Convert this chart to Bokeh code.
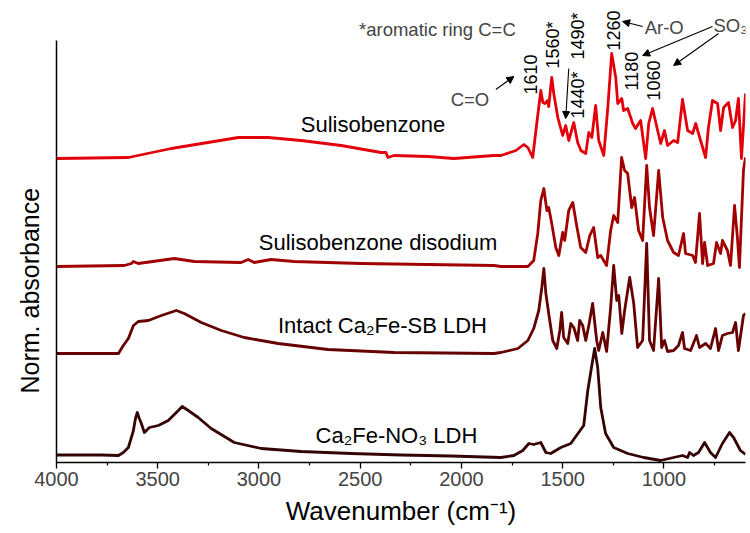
import math
from bokeh.plotting import figure
from bokeh.models import Range1d, FixedTicker, Label, Arrow, NormalHead, Title
from bokeh.embed import file_html
from bokeh.resources import INLINE

# ---------------- data (wavenumber cm-1, stacked normalized absorbance) ----------------
sb_wn = [4000, 3645, 3433, 3102, 3078, 2955, 2792, 2594, 2397, 2373, 2363, 2333, 2165, 2037, 1840,
         1805, 1731, 1692, 1672, 1648, 1628, 1608, 1598, 1588, 1574, 1569, 1554, 1544, 1524, 1500,
         1485, 1470, 1445, 1426, 1410, 1386, 1371, 1356, 1337, 1322, 1297, 1277, 1258, 1238, 1228,
         1208, 1199, 1179, 1154, 1140, 1115, 1090, 1075, 1056, 1031, 1016, 997, 982, 952, 932,
         908, 883, 858, 843, 819, 794, 780, 760, 735, 720, 705, 681, 661, 646, 632, 617, 597]
sb_ab = [3.04, 3.05, 3.14, 3.25, 3.25, 3.25, 3.22, 3.17, 3.10, 3.10, 3.05, 3.07, 3.06, 3.04, 3.07,
         3.07, 3.12, 3.18, 3.15, 3.05, 3.39, 3.72, 3.60, 3.59, 3.62, 3.56, 3.85, 3.69, 3.45, 3.27,
         3.37, 3.22, 3.40, 3.20, 3.12, 3.09, 3.30, 3.25, 3.57, 3.22, 3.07, 3.55, 4.09, 3.85, 3.59,
         3.64, 3.52, 3.54, 3.39, 3.34, 3.42, 3.04, 3.39, 3.54, 3.32, 3.19, 3.32, 3.17, 3.22, 3.20,
         3.63, 3.32, 3.29, 3.39, 3.22, 3.05, 3.35, 3.62, 3.59, 3.32, 3.55, 3.60, 3.35, 3.42, 3.64,
         3.04, 3.69]

sbna_wn = [4000, 3665, 3630, 3620, 3596, 3418, 3319, 3088, 3053, 3024, 2940, 2826, 2496, 1840, 1805,
           1672, 1643, 1623, 1608, 1593, 1578, 1569, 1554, 1534, 1519, 1500, 1490, 1470, 1450, 1431,
           1411, 1386, 1366, 1347, 1327, 1312, 1283, 1263, 1248, 1228, 1209, 1194, 1179, 1159, 1145,
           1125, 1105, 1085, 1071, 1051, 1026, 1006, 982, 952, 928, 903, 893, 858, 844, 824,
           809, 799, 784, 755, 740, 720, 711, 686, 671, 651, 637, 627, 607, 597]
sbna_ab = [1.96, 1.97, 1.99, 2.01, 1.99, 2.04, 2.01, 2.00, 2.03, 2.00, 2.03, 2.01, 1.99, 1.97, 1.96,
           1.96, 2.02, 2.29, 2.62, 2.74, 2.52, 2.55, 2.39, 2.15, 2.07, 2.30, 2.22, 2.52, 2.60, 2.37,
           2.15, 2.10, 2.27, 2.35, 2.05, 2.07, 1.97, 2.32, 2.47, 2.40, 3.05, 2.92, 2.89, 2.55, 2.65,
           2.32, 2.22, 2.97, 2.55, 2.27, 2.92, 2.45, 2.22, 2.10, 2.07, 2.29, 2.09, 2.07, 2.00, 2.49,
           1.99, 2.20, 1.97, 1.99, 2.20, 2.09, 2.22, 2.12, 1.97, 2.57, 2.25, 1.95, 2.92, 3.05]

ldh_sb_wn = [4000, 3694, 3670, 3645, 3620, 3596, 3546, 3482, 3408, 3369, 3285, 3186, 3073, 2905, 2659,
             2333, 1840, 1805, 1721, 1672, 1643, 1618, 1603, 1593, 1583, 1569, 1549, 1529, 1514, 1505,
             1495, 1475, 1460, 1445, 1426, 1416, 1401, 1386, 1371, 1352, 1332, 1322, 1302, 1283, 1263,
             1248, 1233, 1223, 1208, 1194, 1169, 1149, 1130, 1105, 1085, 1071, 1051, 1026, 1011, 997,
             982, 952, 928, 908, 898, 868, 839, 824, 794, 770, 745, 730, 711, 686, 661,
             646, 632, 607, 597]
ldh_sb_ab = [1.09, 1.09, 1.17, 1.24, 1.37, 1.41, 1.42, 1.47, 1.52, 1.49, 1.40, 1.32, 1.25, 1.19, 1.13,
             1.10, 1.09, 1.10, 1.14, 1.22, 1.34, 1.52, 1.75, 1.94, 1.69, 1.49, 1.22, 1.14, 1.32, 1.50,
             1.25, 1.19, 1.39, 1.35, 1.22, 1.42, 1.37, 1.22, 1.37, 1.59, 1.22, 1.12, 1.30, 1.11, 1.55,
             1.97, 1.62, 1.67, 1.29, 1.52, 1.85, 1.59, 1.15, 1.22, 2.19, 1.22, 1.12, 1.84, 1.15, 1.22,
             1.11, 1.12, 1.17, 1.30, 1.14, 1.12, 1.27, 1.15, 1.19, 1.14, 1.34, 1.12, 1.27, 1.29, 1.30,
             1.40, 1.12, 1.47, 1.49]

ldh_no3_wn = [4000, 3778, 3694, 3670, 3645, 3620, 3610, 3601, 3591, 3581, 3566, 3541, 3497, 3448, 3408,
              3379, 3349, 3300, 3236, 3122, 2989, 2792, 2545, 2299, 2052, 1805, 1741, 1697, 1667, 1643,
              1608, 1583, 1559, 1509, 1460, 1421, 1396, 1376, 1352, 1342, 1327, 1312, 1288, 1248, 1179,
              1100, 1016, 952, 908, 883, 873, 854, 829, 799, 770, 745, 711, 676, 656, 622, 597]
ldh_no3_ab = [0.075, 0.075, 0.07, 0.10, 0.15, 0.32, 0.44, 0.50, 0.44, 0.39, 0.30, 0.35, 0.37, 0.42, 0.50,
              0.56, 0.52, 0.45, 0.34, 0.20, 0.14, 0.11, 0.09, 0.075, 0.065, 0.05, 0.07, 0.12, 0.19, 0.18,
              0.20, 0.10, 0.09, 0.15, 0.19, 0.30, 0.37, 0.72, 1.02, 1.14, 0.95, 0.55, 0.29, 0.15, 0.09,
              0.05, 0.02, 0.05, 0.07, 0.05, 0.10, 0.07, 0.10, 0.20, 0.10, 0.05, 0.19, 0.30, 0.25, 0.12, 0.08]

series_names = ["Sulisobenzone", "Sulisobenzone disodium", "Intact Ca\u2082Fe-SB LDH", "Ca\u2082Fe-NO\u2083 LDH"]
series_label_wn = [2437, 2412, 2390, 2321]
series_label_ab = [3.385, 2.205, 1.37, 0.27]
series_colors = ["#E3000B", "#A00000", "#660000", "#340404"]

x_ticks = [1000, 1500, 2000, 2500, 3000, 3500, 4000]
x_minor = [750, 1250, 1750, 2250, 2750, 3250, 3750]

# peak annotations (rotated band positions)
peak_text = ["1610", "1560*", "1490*", "1440*", "1260", "1180", "1060"]
peak_wn = [1658, 1549, 1426, 1426, 1248, 1159, 1051]
peak_ab = [3.68, 3.94, 4.03, 3.44, 4.12, 3.72, 3.62]

x_title = "Wavenumber (cm\u207b\u00b9)"
y_title = "Norm. absorbance"

# ---------------- figure ----------------
FONT = "Liberation Sans"
p = figure(width=750, height=533, output_backend="svg", toolbar_location=None,
           x_range=Range1d(4000, 597), y_range=Range1d(0, 4.62),
           min_border_left=55, min_border_right=5, min_border_top=0, min_border_bottom=71)
p.outline_line_color = None
p.grid.visible = False

for wn, ab, c in zip([sb_wn, sbna_wn, ldh_sb_wn, ldh_no3_wn],
                     [sb_ab, sbna_ab, ldh_sb_ab, ldh_no3_ab], series_colors):
    p.line(wn, ab, line_color=c, line_width=2.8, line_join="round")

# x axis
xa = p.xaxis[0]
xa.ticker = FixedTicker(ticks=x_ticks, minor_ticks=x_minor)
xa.major_label_text_font = FONT
xa.major_label_text_font_size = "20px"
xa.major_label_standoff = 3
xa.major_tick_out = 6
xa.major_tick_in = 0
xa.minor_tick_out = 3
xa.minor_tick_in = 0
xa.axis_line_width = 1.5
xa.major_tick_line_width = 1.3
xa.minor_tick_line_width = 1.2

# y axis: plain line, no ticks
ya = p.yaxis[0]
ya.ticker = FixedTicker(ticks=[], minor_ticks=[])
ya.major_tick_line_color = None
ya.minor_tick_line_color = None
ya.bounds = (0, 4.22)
ya.axis_line_width = 1.5

# axis titles
p.add_layout(Title(text=x_title, align="center", standoff=10, text_font=FONT, text_font_size="26px",
                   text_font_style="normal", text_color="black"), "below")
p.add_layout(Title(text=y_title, align="left", offset=69, standoff=26, text_font=FONT,
                   text_font_size="25px", text_font_style="normal", text_color="black"), "left")

# spectrum labels
for t, x, y in zip(series_names, series_label_wn, series_label_ab):
    p.add_layout(Label(x=x, y=y, text=t, text_align="center", text_baseline="middle",
                       text_font=FONT, text_font_size="22px", text_color="black"))

# peak labels, rotated
for t, x, y in zip(peak_text, peak_wn, peak_ab):
    p.add_layout(Label(x=x, y=y, text=t, angle=math.pi / 2, text_align="left", text_baseline="middle",
                       text_font=FONT, text_font_size="18px", text_color="black"))

# other annotation texts
p.add_layout(Label(x=2506, y=4.335, text="*aromatic ring C=C", text_align="left", text_baseline="middle",
                   text_font=FONT, text_font_size="18.5px"))
p.add_layout(Label(x=1958, y=3.635, text="C=O", text_align="center", text_baseline="middle",
                   text_font=FONT, text_font_size="18.5px"))
p.add_layout(Label(x=1095, y=4.35, text="Ar-O", text_align="left", text_baseline="middle",
                   text_font=FONT, text_font_size="18.5px"))
p.add_layout(Label(x=755, y=4.37, text="SO\u2083", text_align="left", text_baseline="middle",
                   text_font=FONT, text_font_size="18.5px"))

# arrows
arrows = [(1830, 3.73, 1741, 3.86), (1105, 4.36, 1204, 4.41), (760, 4.36, 1105, 4.07),
          (730, 4.29, 952, 3.97), (1470, 3.94, 1485, 3.44)]
for xs, ys, xe, ye in arrows:
    p.add_layout(Arrow(end=NormalHead(size=7, fill_color="black", line_color="black", line_width=1),
                       x_start=xs, y_start=ys, x_end=xe, y_end=ye, line_width=1.1, line_color="black"))

open("out.html", "w").write(file_html(p, INLINE))
